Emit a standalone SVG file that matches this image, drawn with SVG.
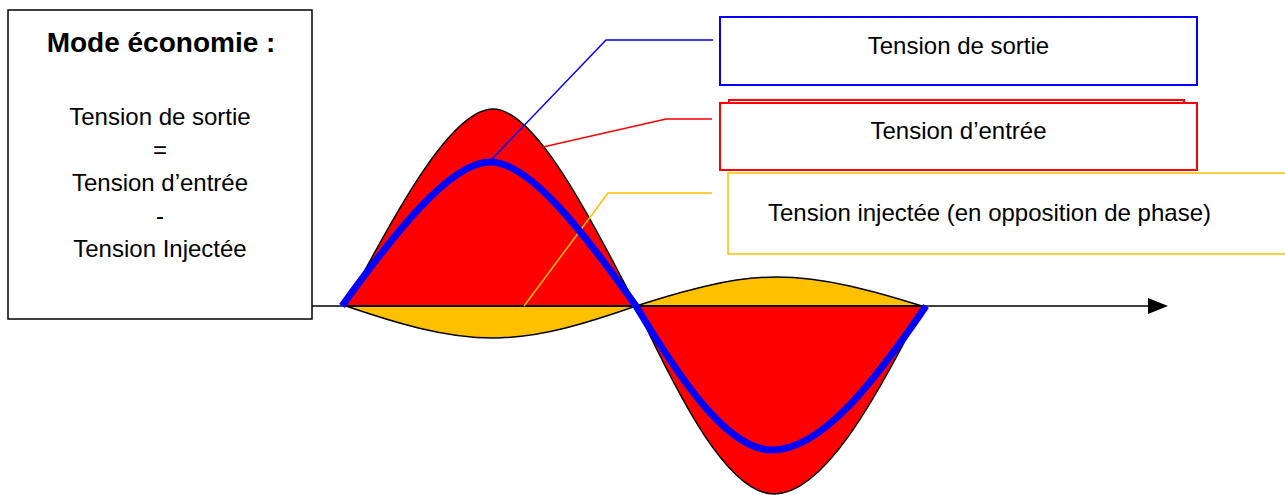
<svg xmlns="http://www.w3.org/2000/svg" width="1285" height="495" viewBox="0 0 1285 495">
<style>
.txt{font-family:"Liberation Sans",Arial,sans-serif;font-size:24px;fill:#000}
.title{font-family:"Liberation Sans",Arial,sans-serif;font-size:28px;font-weight:bold;fill:#000}
.box{fill:#fff;stroke-width:2}
.wave{stroke:#000;stroke-width:1.5;stroke-linejoin:round}
.conn{fill:none;stroke-width:1.5}
</style>
<defs>
<marker id="arrow" viewBox="0 0 20 16" refX="0" refY="8" markerWidth="20" markerHeight="16" markerUnits="userSpaceOnUse" orient="auto">
<path d="M0,0 L20,8 L0,16 Z" fill="#000"/>
</marker>
</defs>
<rect width="1285" height="495" fill="#fff"/>

<g id="info-box">
<rect x="8" y="10" width="304" height="309" fill="#fff" stroke="#000" stroke-width="1.5"/>
<text class="title" x="161" y="52" text-anchor="middle">Mode économie :</text>
<text class="txt" x="160" y="125" text-anchor="middle">Tension de sortie</text>
<text class="txt" x="160" y="158" text-anchor="middle">=</text>
<text class="txt" x="160" y="191" text-anchor="middle">Tension d’entrée</text>
<text class="txt" x="160" y="224" text-anchor="middle">-</text>
<text class="txt" x="160" y="257" text-anchor="middle">Tension Injectée</text>
</g>

<g id="waves">
<path id="red-pos" class="wave" fill="#FF0000" d="M346,306 C397.5,207.5 452,109 493,109 C533,109 586,207.5 636,306 Z"/>
<path id="red-neg" class="wave" fill="#FF0000" d="M636,306 C681,402.3 728.7,494 774,494 C822.9,494 874.4,402.3 923,306 Z"/>
<path id="yellow-neg" class="wave" fill="#FFC000" d="M346,306 C393.9,322.4 444.8,338 493,338 C539.9,338 589.4,322.4 636,306 Z"/>
<path id="yellow-pos" class="wave" fill="#FFC000" d="M636,306 C682,291.1 730.8,277 777,277 C824.7,277 874.7,291.1 922,306 Z"/>
</g>

<g id="axis">
<line x1="312" y1="306" x2="1148" y2="306" stroke="#000" stroke-width="1.5" marker-end="url(#arrow)"/>
</g>

<g id="connectors">
<polyline class="conn" stroke="#FF0000" points="543,147 666,119 712,119"/>
<polyline class="conn" stroke="#FFC000" points="524,306 608,193 712,193"/>
</g>

<g id="blue-wave">
<path fill="none" stroke="#0000FF" stroke-width="7" d="M342,306 C393.8,234 450,162 490,162 C530,162 584.9,234 636,306 C680.3,379.7 727.4,450 772,450 C822.5,450 875.8,379.7 926,306"/>
</g>

<g id="connector-blue">
<polyline class="conn" stroke="#0000FF" points="490,161 606,40 713,40"/>
</g>

<g id="box-sortie">
<rect class="box" x="720" y="17" width="477" height="68" stroke="#0000FF"/>
<text class="txt" x="958.5" y="54" text-anchor="middle">Tension de sortie</text>
</g>

<g id="box-entree">
<rect class="box" x="729" y="100" width="455" height="60" stroke="#FF0000"/>
<rect class="box" x="720" y="103" width="477" height="67" stroke="#FF0000"/>
<text class="txt" x="958.5" y="139" text-anchor="middle">Tension d’entrée</text>
</g>

<g id="box-injectee">
<rect x="728" y="173" width="600" height="81" fill="#fff" stroke="#FFC000" stroke-width="1.5"/>
<text class="txt" x="768" y="221">Tension injectée (en opposition de phase)</text>
</g>
</svg>
